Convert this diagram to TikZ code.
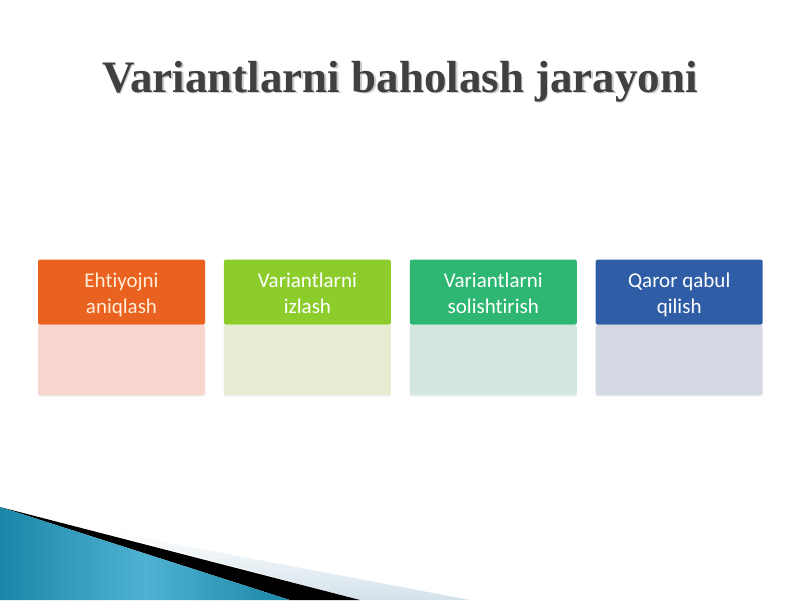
\documentclass[tikz,border=0pt]{standalone}
\usepackage{fontspec}
\setmainfont{Liberation Serif}
\newfontfamily\boxfont[Ligatures=NoCommon]{Carlito}
\usetikzlibrary{positioning,shadows}

\definecolor{titlegray}{HTML}{404040}
\definecolor{headone}{HTML}{E9621F}
\definecolor{bodyone}{HTML}{F6D6CF}
\definecolor{headtwo}{HTML}{8CCC2B}
\definecolor{bodytwo}{HTML}{E6EDD3}
\definecolor{headthree}{HTML}{2DB773}
\definecolor{bodythree}{HTML}{D2E7DD}
\definecolor{headfour}{HTML}{2F5DA6}
\definecolor{bodyfour}{HTML}{D5D9E3}
\definecolor{tealdark}{HTML}{1B86A8}
\definecolor{teallight}{HTML}{4FB2D2}
\definecolor{bandgray}{HTML}{D3E2EA}
\newcommand{\headstrut}{\rule{0pt}{24pt}}

\begin{document}
\begin{tikzpicture}[x=1pt,y=-1pt,
  head/.style={minimum width=167pt,minimum height=65pt,inner sep=0pt,
    rounded corners=2pt,align=center,text=white,
    font=\boxfont\fontsize{21}{26}\selectfont},
  body/.style={minimum width=167pt,minimum height=70pt,inner sep=0pt,
    rounded corners=2pt,drop shadow={opacity=0.12,shadow xshift=0pt,shadow yshift=-1.5pt}}]
\useasboundingbox (0,0) rectangle (800,600);
\fill [white] (0,0) rectangle (800,600);
% title
\node [anchor=base,text=black!20,font=\bfseries\fontsize{45}{50}\selectfont] (titleshadow) at (401.5,93.5) {Variantlarni baholash jarayoni};
\node [anchor=base,text=titlegray,font=\bfseries\fontsize{45}{50}\selectfont] (title) at (400,92) {Variantlarni baholash jarayoni};
% boxes
\node [body,fill=bodyone] (b1) at (121.5,360) {};
\node [body,fill=bodytwo,right=18.5pt of b1] (b2) {};
\node [body,fill=bodythree,right=18.5pt of b2] (b3) {};
\node [body,fill=bodyfour,right=18.5pt of b3] (b4) {};
\node [head,fill=headone,text=orange!15!white,above=0pt of b1] (h1) {\headstrut Ehtiyojni\\\strut aniqlash};
\node [head,fill=headtwo,above=0pt of b2] (h2) {\headstrut Variantlarni\\\strut izlash};
\node [head,fill=headthree,above=0pt of b3] (h3) {\headstrut Variantlarni\\\strut solishtirish};
\node [head,fill=headfour,above=0pt of b4] (h4) {\headstrut Qaror qabul\\\strut qilish};
% corner decoration
\shade [top color=white,bottom color=bandgray] (90,528) -- (470,600) -- (360,600) -- cycle;
\fill [black] (0,507) -- (360,600) -- (290,600) -- cycle;
\shade [left color=tealdark,right color=tealdark,middle color=teallight] (0,507) -- (290,600) -- (0,600) -- cycle;
\end{tikzpicture}
\end{document}
